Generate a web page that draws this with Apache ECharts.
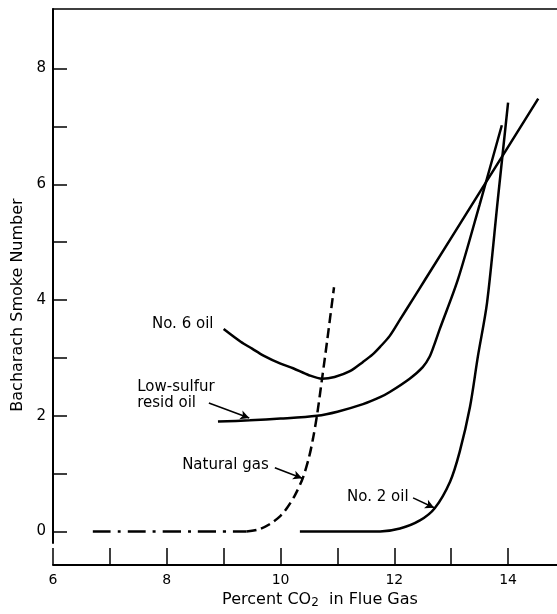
<!DOCTYPE html>
<html>
<head>
<meta charset="utf-8">
<script src="https://cdn.jsdelivr.net/npm/echarts@6/dist/echarts.min.js"></script>
<style>
  html, body { margin: 0; padding: 0; background: #fff; }
  #chart { width: 557px; height: 614px; }
</style>
</head>
<body>
<div id="chart"></div>
<script>
// tick positions
const xTicks = [6, 7, 8, 9, 10, 11, 12, 13, 14]
const xLabels = [6, 8, 10, 12, 14]
const yTicks = [0, 1, 2, 3, 4, 5, 6, 7, 8]
const yLabels = [0, 2, 4, 6, 8]

// curves, [percent CO2, smoke number]
const natGasFlat = [[6.7, 0], [9.4, 0]]
const natGasRise = [
  [9.4, 0], [9.6, 0.03], [9.8, 0.12], [10.0, 0.27], [10.11, 0.4], [10.25, 0.62],
  [10.39, 0.92], [10.5, 1.28], [10.57, 1.6], [10.64, 2.0], [10.73, 2.64],
  [10.82, 3.3], [10.94, 4.22]
]
const no6Oil = [
  [9.0, 3.5], [9.3, 3.28], [9.5, 3.16], [9.7, 3.04], [10.0, 2.9], [10.22, 2.82],
  [10.5, 2.7], [10.73, 2.64], [10.95, 2.67], [11.22, 2.77], [11.45, 2.93],
  [11.62, 3.06], [11.75, 3.19], [11.92, 3.38], [12.1, 3.66], [12.33, 4.02],
  [12.54, 4.35], [13.5, 5.86], [14.53, 7.48]
]
const residOil = [
  [8.9, 1.9], [9.46, 1.92], [10.0, 1.95], [10.64, 2.0], [11.0, 2.07], [11.45, 2.2],
  [11.75, 2.32], [11.92, 2.41], [12.27, 2.64], [12.5, 2.84], [12.62, 3.02],
  [12.7, 3.22], [12.8, 3.5], [13.12, 4.36], [13.5, 5.65], [13.89, 7.02]
]
const no2Oil = [
  [10.34, 0], [11.0, 0], [11.75, 0], [12.1, 0.05], [12.45, 0.19], [12.71, 0.4],
  [12.98, 0.86], [13.15, 1.38], [13.33, 2.15], [13.47, 3.03], [13.63, 3.95],
  [13.82, 5.74], [14.0, 7.41]
]

// curve labels and their pointers
const notes = [
  { name: 'No. 6 oil', value: [7.74, 3.59] },
  { name: 'Low-sulfur', value: [7.48, 2.5] },
  { name: 'resid oil', value: [7.48, 2.21] },
  { name: 'Natural gas', value: [8.27, 1.14] },
  { name: 'No. 2 oil', value: [11.17, 0.6] }
]
const pointers = [
  [[8.74, 2.22], [9.45, 1.96]],
  [[9.9, 1.1], [10.38, 0.92]],
  [[12.33, 0.58], [12.7, 0.41]]
]

const font = 'DejaVu Sans'
const ink = '#000'

const curve = (name, data, dash) => ({
  name,
  type: 'line',
  data,
  showSymbol: false,
  smooth: 0.3,
  lineStyle: { color: ink, width: 2.5, type: dash || 'solid' },
  z: 3
})

const chart = echarts.init(document.getElementById('chart'))
chart.setOption({
  animation: false,
  backgroundColor: '#fff',
  grid: { left: 53, right: 0, top: 9, bottom: 69 },
  xAxis: [
    {
      type: 'value',
      min: 6,
      max: 14.86,
      offset: 22,
      splitLine: { show: false },
      axisLine: { show: true, onZero: false, lineStyle: { color: ink, width: 2 } },
      axisTick: { show: true, inside: true, length: 17, customValues: xTicks, lineStyle: { color: ink, width: 1.5 } },
      axisLabel: { customValues: xLabels, color: ink, fontFamily: font, fontSize: 14, margin: 8 },
      name: '{a|Percent CO}{s|2}{a|  in Flue Gas}',
      nameLocation: 'middle',
      nameGap: 26,
      nameTextStyle: {
        padding: [0, 0, 0, 30],
        rich: {
          a: { fontFamily: font, fontSize: 16, color: ink },
          s: { fontFamily: font, fontSize: 12, color: ink, padding: [6, 0, 0, 0] }
        }
      }
    },
    {
      type: 'value',
      position: 'top',
      min: 6,
      max: 14.86,
      splitLine: { show: false },
      axisLine: { show: true, onZero: false, lineStyle: { color: ink, width: 1.5 } },
      axisTick: { show: false },
      axisLabel: { show: false }
    }
  ],
  yAxis: {
    type: 'value',
    min: -0.2,
    max: 9.03,
    splitLine: { show: false },
    axisLine: { show: true, onZero: false, lineStyle: { color: ink, width: 2 } },
    axisTick: { show: true, inside: true, length: 14, customValues: yTicks, lineStyle: { color: ink, width: 1.5 } },
    axisLabel: { customValues: yLabels, color: ink, fontFamily: font, fontSize: 15, margin: 7 },
    name: 'Bacharach Smoke Number',
    nameLocation: 'middle',
    nameGap: 26,
    nameTextStyle: { fontFamily: font, fontSize: 16, color: ink, padding: [0, 58, 0, 0] }
  },
  series: [
    curve('Natural gas', natGasFlat, [18, 7, 3, 7]),
    curve('Natural gas', natGasRise, [10, 5]),
    curve('No. 6 oil', no6Oil),
    curve('Low-sulfur resid oil', residOil),
    curve('No. 2 oil', no2Oil),
    {
      name: 'notes',
      type: 'scatter',
      data: notes,
      symbolSize: 0,
      itemStyle: { opacity: 1 },
      label: {
        show: true,
        formatter: '{b}',
        position: 'right',
        distance: 0,
        color: ink,
        opacity: 1,
        fontFamily: font,
        fontSize: 15
      },
      markLine: {
        silent: true,
        symbol: ['none', 'arrow'],
        symbolSize: [7, 9],
        label: { show: false },
        lineStyle: { color: ink, width: 1.5, type: 'solid', opacity: 1 },
        data: pointers.map(([a, b]) => [{ coord: a }, { coord: b }])
      }
    }
  ]
})
</script>
</body>
</html>
